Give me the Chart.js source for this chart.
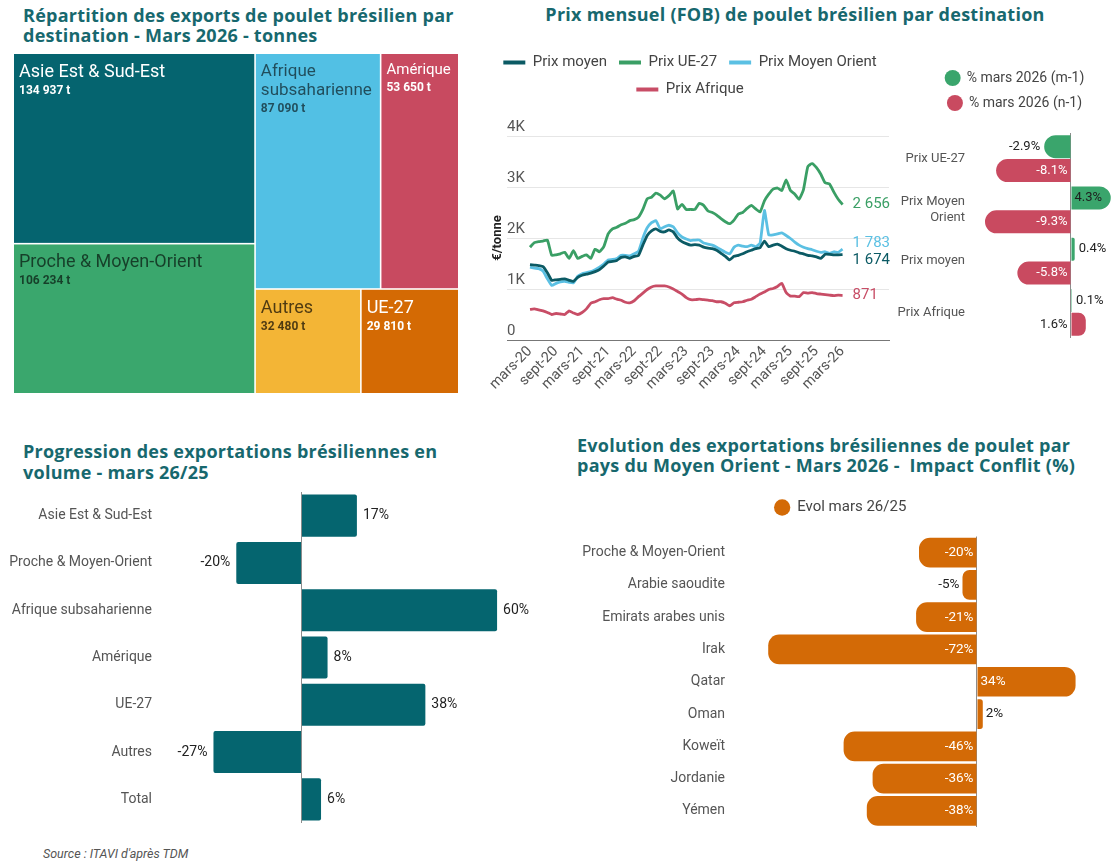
<!DOCTYPE html>
<html lang="fr">
<head>
<meta charset="utf-8">
<title>Exports de poulet brésilien - Mars 2026</title>
<script src="https://cdn.jsdelivr.net/npm/chart.js@4/dist/chart.umd.min.js"></script>
<style>
  body { margin: 0; background: #fff; width: 1120px; height: 868px; position: relative; overflow: hidden; font-family: Roboto, sans-serif; }
  .titre { position: absolute; font-family: 'Open Sans', sans-serif; font-weight: 700; color: #17686e; font-size: 18px; letter-spacing: 0.25px; line-height: 20px; white-space: nowrap; }
  canvas { position: absolute; }
  .source { position: absolute; left: 43px; top: 846px; font-size: 12.5px; font-style: italic; color: #555; }
</style>
</head>
<body>
<div class="titre" style="left:23px;top:5px">Répartition des exports de poulet brésilien par<br>destination - Mars 2026 - tonnes</div>
<div class="titre" style="left:540px;top:4px;width:510px;text-align:center">Prix mensuel (FOB) de poulet brésilien par destination</div>
<div class="titre" style="left:23px;top:441px;line-height:21px">Progression des exportations brésiliennes en<br>volume - mars 26/25</div>
<div class="titre" style="left:577px;top:435px">Evolution des exportations brésiliennes de poulet par<br>pays du Moyen Orient - Mars 2026 - &nbsp;Impact Conflit (%)</div>

<canvas id="treemap" width="444" height="339" style="left:14px;top:54px"></canvas>
<canvas id="prixChart" width="440" height="353" style="left:470px;top:43px"></canvas>
<canvas id="variationChart" width="250" height="278" style="left:890px;top:60px"></canvas>
<canvas id="volumeChart" width="545" height="331" style="left:0px;top:492px"></canvas>
<canvas id="moChart" width="554" height="337" style="left:566px;top:490px"></canvas>
<div class="source">Source : ITAVI d'après TDM</div>

<script>
// Répartition des exports par destination - mars 2026 (tonnes)
const treemapLabels = ['Asie Est & Sud-Est', 'Proche & Moyen-Orient', 'Afrique subsaharienne', 'Amérique', 'Autres', 'UE-27'];
const treemapValues = [134937, 106234, 87090, 53650, 32480, 29810];

// Prix mensuels FOB (€/tonne), de mars-20 à mars-26
const xTickLabels = ['mars-20', 'sept-20', 'mars-21', 'sept-21', 'mars-22', 'sept-22', 'mars-23',
    'sept-23', 'mars-24', 'sept-24', 'mars-25', 'sept-25', 'mars-26'];
const prixMoyen = [
    1480, 1470, 1460, 1440, 1320, 1170, 1180, 1190, 1200, 1170,
    1150, 1230, 1270, 1290, 1310, 1340, 1380, 1450, 1530, 1540,
    1560, 1620, 1630, 1600, 1640, 1660, 1860, 2050, 2140, 2180,
    2130, 2120, 2160, 2120, 2000, 1930, 1890, 1860, 1870, 1860,
    1820, 1800, 1790, 1760, 1700, 1640, 1570, 1640, 1660, 1690,
    1730, 1760, 1790, 1810, 1940, 1830, 1860, 1880, 1840, 1790,
    1760, 1740, 1710, 1690, 1660, 1650, 1630, 1600, 1680, 1680,
    1670, 1670, 1674];
const prixUE = [
    1820, 1910, 1930, 1940, 1960, 1660, 1670, 1690, 1720, 1600,
    1750, 1600, 1640, 1670, 1600, 1780, 1730, 1830, 2080, 2180,
    2210, 2260, 2290, 2340, 2360, 2410, 2560, 2770, 2800, 2880,
    2840, 2770, 2830, 2920, 2570, 2660, 2560, 2560, 2560, 2680,
    2640, 2530, 2500, 2450, 2380, 2320, 2280, 2350, 2470, 2500,
    2580, 2640, 2570, 2510, 2730, 2860, 2960, 2980, 2930, 3140,
    2930, 2860, 2760, 2950, 3400, 3460, 3380, 3250, 3080, 3060,
    2900, 2760, 2656];
const prixMoyenOrient = [
    1430, 1410, 1400, 1350, 1200, 1070, 1110, 1140, 1150, 1130,
    1120, 1250, 1300, 1320, 1340, 1380, 1430, 1490, 1570, 1580,
    1600, 1660, 1660, 1650, 1690, 1740, 2000, 2200, 2300, 2340,
    2180, 2220, 2250, 2220, 2100, 2020, 1980, 1950, 1960, 1960,
    1900, 1880, 1860, 1820, 1770, 1720, 1690, 1820, 1860, 1840,
    1830, 1860, 1830, 1900, 2540, 2060, 2060, 2080, 2100, 2050,
    1990, 1920, 1860, 1820, 1790, 1770, 1740, 1720, 1730, 1700,
    1730, 1720, 1783];
const prixAfrique = [
    600, 610, 590, 570, 540, 500, 520, 510, 500, 570,
    530, 500, 540, 610, 720, 750, 790, 810, 810, 830,
    800, 780, 740, 730, 770, 850, 920, 990, 1040, 1060,
    1060, 1060, 1040, 1000, 950, 900, 830, 790, 790, 800,
    790, 780, 770, 750, 750, 720, 670, 730, 740, 750,
    780, 800, 850, 900, 940, 990, 1010, 1050, 1110, 930,
    860, 860, 850, 930, 920, 930, 910, 900, 890, 880,
    870, 880, 871];

// Variation des prix mars 2026 (%)
const variationCategories = ['Prix UE-27', ['Prix Moyen', 'Orient'], 'Prix moyen', 'Prix Afrique'];
const variationM1 = [-2.9, 4.3, 0.4, 0.1];
const variationN1 = [-8.1, -9.3, -5.8, 1.6];

// Progression des volumes exportés mars 26/25 (%)
const volumeCategories = ['Asie Est & Sud-Est', 'Proche & Moyen-Orient', 'Afrique subsaharienne', 'Amérique', 'UE-27', 'Autres', 'Total'];
const volumeValues = [17, -20, 60, 8, 38, -27, 6];

// Evolution par pays du Moyen-Orient mars 26/25 (%)
const moCategories = ['Proche & Moyen-Orient', 'Arabie saoudite', 'Emirats arabes unis', 'Irak', 'Qatar', 'Oman', 'Koweït', 'Jordanie', 'Yémen'];
const moValues = [-20, -5, -21, -72, 34, 2, -46, -36, -38];

// Styles
const treemapColors = ['#05646f', '#3aa76d', '#52c0e4', '#c84a60', '#f3b536', '#d46a04'];
const treemapTextColors = ['#ffffff', 'rgba(0,0,0,0.62)', 'rgba(0,0,0,0.6)', '#ffffff', 'rgba(0,0,0,0.68)', '#ffffff'];

Chart.defaults.font.family = 'Roboto';
Chart.defaults.color = '#555';
Chart.defaults.animation = false;
Chart.defaults.events = [];
Chart.defaults.plugins.tooltip.enabled = false;

// Format "134 937"
const milliers = v => String(Math.round(v)).replace(/\B(?=(\d{3})+(?!\d))/g, ' ');

// Squarify (ratio d'or), en unités de la zone
function squarify(values, x0, y0, x1, y1) {
    const ratio = (1 + Math.sqrt(5)) / 2;
    const rects = [];
    let value = values.reduce((a, b) => a + b, 0);
    let i0 = 0, i1 = 0;
    while (i0 < values.length) {
        const dx = x1 - x0, dy = y1 - y0;
        let sum = values[i1++];
        let minV = sum, maxV = sum;
        const alpha = Math.max(dy / dx, dx / dy) / (value * ratio);
        let beta = sum * sum * alpha;
        let minRatio = Math.max(maxV / beta, beta / minV);
        for (; i1 < values.length; ++i1) {
            const v = values[i1];
            sum += v;
            minV = Math.min(minV, v);
            maxV = Math.max(maxV, v);
            beta = sum * sum * alpha;
            const r = Math.max(maxV / beta, beta / minV);
            if (r > minRatio) { sum -= v; break; }
            minRatio = r;
        }
        const row = values.slice(i0, i1);
        if (dx < dy) {
            const yEnd = y0 + dy * sum / value;
            let x = x0;
            row.forEach((v, k) => {
                const w = dx * v / sum;
                rects.push({ i: i0 + k, x0: x, y0: y0, x1: x + w, y1: yEnd });
                x += w;
            });
            y0 = yEnd;
        } else {
            const xEnd = x0 + dx * sum / value;
            let y = y0;
            row.forEach((v, k) => {
                const h = dy * v / sum;
                rects.push({ i: i0 + k, x0: x0, y0: y, x1: xEnd, y1: y + h });
                y += h;
            });
            x0 = xEnd;
        }
        value -= sum;
        i0 = i1;
    }
    return rects;
}

function decouper(ctx, texte, largeurMax) {
    const lignes = [];
    let ligne = '';
    texte.split(' ').forEach(m => {
        const essai = ligne ? ligne + ' ' + m : m;
        if (ligne && ctx.measureText(essai).width > largeurMax) { lignes.push(ligne); ligne = m; }
        else ligne = essai;
    });
    lignes.push(ligne);
    return lignes;
}

const treemapPlugin = {
    id: 'treemap',
    afterDatasetsDraw(chart) {
        const { ctx, chartArea: a, scales: { x, y } } = chart;
        const ar = a.width / a.height;
        const cells = squarify(treemapValues, 0, 0, ar, 1);
        ctx.save();
        cells.forEach(c => {
            let l = x.getPixelForValue(c.x0 / ar), r = x.getPixelForValue(c.x1 / ar);
            let t = y.getPixelForValue(c.y0), b = y.getPixelForValue(c.y1);
            if (c.x0 > 1e-6) l += 0.8;
            if (c.x1 < ar - 1e-6) r -= 0.8;
            if (c.y0 > 1e-6) t += 0.8;
            if (c.y1 < 1 - 1e-6) b -= 0.8;
            ctx.fillStyle = treemapColors[c.i];
            ctx.fillRect(l, t, r - l, b - t);

            const maxW = r - l - 10;
            let size = 18, lignes;
            do {
                ctx.font = size + 'px Roboto';
                lignes = decouper(ctx, treemapLabels[c.i], maxW);
                size--;
            } while (lignes.some(s => ctx.measureText(s).width > maxW) && size > 9);
            size++;
            ctx.fillStyle = treemapTextColors[c.i];
            ctx.textAlign = 'left';
            ctx.textBaseline = 'alphabetic';
            let base = t + 5 + size;
            lignes.forEach((s, k) => { ctx.fillText(s, l + 5, base); if (k < lignes.length - 1) base += size + 2; });
            ctx.font = 'bold 12px Roboto';
            ctx.fillText(milliers(treemapValues[c.i]) + ' t', l + 5, base + 17);
        });
        ctx.restore();
    }
};

// Hauteur de légende fixe pour placer la zone du graphique
const hauteurLegende = {
    id: 'hauteurLegende',
    beforeLayout(chart, args, opts) {
        const lg = chart.legend;
        if (lg && !lg._hauteurFixe) {
            const fit = lg.fit;
            lg.fit = function () { fit.call(this); this.height = opts.hauteur; };
            lg._hauteurFixe = true;
        }
    }
};

// Valeurs en fin de courbe, écartées si elles se chevauchent
const finValeurs = {
    id: 'finValeurs',
    afterDatasetsDraw(chart) {
        const ctx = chart.ctx;
        const items = chart.data.datasets.map((ds, k) => {
            const pts = chart.getDatasetMeta(k).data;
            const pt = pts[pts.length - 1];
            return { x: pt.x, y: pt.y, v: ds.data[ds.data.length - 1].y, color: ds.borderColor };
        }).sort((p, q) => p.y - q.y);
        for (let n = 0; n < 10; n++) {
            for (let k = 1; k < items.length; k++) {
                const d = items[k].y - items[k - 1].y;
                if (d < 17) { const m = (17 - d) / 2; items[k].y += m; items[k - 1].y -= m; }
            }
        }
        ctx.save();
        ctx.font = '15px Roboto';
        ctx.textAlign = 'left';
        ctx.textBaseline = 'middle';
        items.forEach(it => { ctx.fillStyle = it.color; ctx.fillText(milliers(it.v), it.x + 10, it.y); });
        ctx.restore();
    }
};

// Etiquettes de barres
function pluginEtiquettes(opts) {
    return {
        id: 'etiquettes',
        afterDatasetsDraw(chart) {
            const ctx = chart.ctx;
            ctx.save();
            ctx.font = opts.font;
            ctx.textBaseline = 'middle';
            chart.data.datasets.forEach((ds, k) => {
                chart.getDatasetMeta(k).data.forEach((bar, i) => {
                    const v = ds.data[i];
                    const txt = opts.format(v);
                    const w = ctx.measureText(txt).width;
                    const longueur = Math.abs(bar.x - bar.base);
                    let x, align, color;
                    if (opts.inside && longueur > w + 8) {
                        x = v < 0 ? bar.base - 3 : bar.base + 3;
                        align = v < 0 ? 'right' : 'left';
                        color = opts.inside[k];
                    } else if (v < 0 || (opts.outsideLeft && opts.outsideLeft[k])) {
                        x = Math.min(bar.x, bar.base) - opts.gap;
                        align = 'right';
                        color = opts.outside;
                    } else {
                        x = bar.x + opts.gap;
                        align = 'left';
                        color = opts.outside;
                    }
                    ctx.textAlign = align;
                    ctx.fillStyle = color;
                    ctx.fillText(txt, x, bar.y);
                });
            });
            ctx.restore();
        }
    };
}

// Axe des valeurs réduit à la ligne du zéro
function axeZero(min, max, margeDroite) {
    return {
        min: min, max: max,
        afterBuildTicks: s => { s.ticks = [{ value: 0 }]; },
        afterFit: s => { s.paddingLeft = 0; s.paddingRight = margeDroite || 0; },
        ticks: { display: false },
        grid: { drawTicks: false, color: '#8c8c8c', lineWidth: 1 },
        border: { display: false }
    };
}
function axeCategories(largeur, padding, taille) {
    return {
        afterFit: s => { s.width = largeur; s.paddingTop = 0; s.paddingBottom = 0; },
        ticks: { padding: padding, color: '#555', font: { size: taille } },
        grid: { display: false, drawTicks: false },
        border: { display: false }
    };
}

// 1. Treemap
new Chart(document.getElementById('treemap'), {
    type: 'scatter',
    data: { datasets: [] },
    options: {
        responsive: false,
        layout: { padding: 0 },
        plugins: { legend: { display: false } },
        scales: {
            x: { type: 'linear', min: 0, max: 1, display: false },
            y: { type: 'linear', min: 0, max: 1, reverse: true, display: false }
        }
    },
    plugins: [treemapPlugin]
});

// 2. Prix mensuels
const serie = arr => arr.map((v, i) => ({ x: i, y: v }));
new Chart(document.getElementById('prixChart'), {
    type: 'line',
    data: {
        datasets: [
            { label: 'Prix moyen', data: serie(prixMoyen), borderColor: '#0b5a64', backgroundColor: '#0b5a64' },
            { label: 'Prix UE-27', data: serie(prixUE), borderColor: '#3a9f65', backgroundColor: '#3a9f65' },
            { label: 'Prix Moyen Orient', data: serie(prixMoyenOrient), borderColor: '#5bc0e3', backgroundColor: '#5bc0e3' },
            { label: 'Prix Afrique', data: serie(prixAfrique), borderColor: '#c84d66', backgroundColor: '#c84d66' }
        ]
    },
    options: {
        responsive: false,
        layout: { padding: 0 },
        elements: { point: { radius: 0 }, line: { borderWidth: 2.8, tension: 0.15 } },
        plugins: {
            hauteurLegende: { hauteur: 93 },
            legend: {
                position: 'top',
                labels: {
                    boxWidth: 22, boxHeight: 4, padding: 12, color: '#444', font: { size: 15 },
                    generateLabels: chart => Chart.defaults.plugins.legend.labels.generateLabels(chart)
                        .map(l => Object.assign(l, { lineWidth: 0 }))
                }
            }
        },
        scales: {
            x: {
                type: 'linear', min: -5.3, max: 82.7,
                afterBuildTicks: s => { s.ticks = xTickLabels.map((_, k) => ({ value: k * 6 })); },
                afterFit: s => { s.paddingLeft = 0; s.paddingRight = 21; },
                ticks: {
                    autoSkip: false, minRotation: 45, maxRotation: 45, padding: 3,
                    color: '#555', font: { size: 14.5 },
                    callback: v => xTickLabels[Math.round(v / 6)]
                },
                grid: { drawOnChartArea: false, drawTicks: false },
                border: { display: true, color: '#777' }
            },
            y: {
                min: 0, max: 4000,
                afterFit: s => { s.paddingTop = 0; s.paddingBottom = 0; },
                ticks: {
                    stepSize: 1000, mirror: true, padding: 0, labelOffset: -9,
                    color: '#555', font: { size: 15 },
                    callback: v => v === 0 ? '0' : (v / 1000) + 'K'
                },
                grid: { color: '#e6e6e6', drawTicks: false },
                border: { display: false },
                title: { display: true, text: '€/tonne', color: '#222', font: { size: 13, weight: 'bold' }, padding: { top: 20.2, bottom: 1.2 } }
            }
        }
    },
    plugins: [hauteurLegende, finValeurs]
});

// 3. Variations des prix
new Chart(document.getElementById('variationChart'), {
    type: 'bar',
    data: {
        labels: variationCategories,
        datasets: [
            { label: '% mars 2026 (m-1)', data: variationM1, backgroundColor: '#3aa56c' },
            { label: '% mars 2026 (n-1)', data: variationN1, backgroundColor: '#c94a60' }
        ]
    },
    options: {
        responsive: false,
        indexAxis: 'y',
        layout: { padding: 0 },
        datasets: { bar: { borderRadius: 12, borderSkipped: 'start', barPercentage: 0.96, categoryPercentage: 0.93 } },
        plugins: {
            hauteurLegende: { hauteur: 73 },
            legend: {
                position: 'top',
                labels: { usePointStyle: true, pointStyle: 'circle', boxWidth: 14, boxHeight: 11.3, padding: 11, color: '#444', font: { size: 14 } }
            }
        },
        scales: {
            x: axeZero(-9.84, 5.3, 20),
            y: axeCategories(90, 15, 13)
        }
    },
    plugins: [hauteurLegende, pluginEtiquettes({
        font: '13px Roboto', gap: 4, format: v => v.toFixed(1) + '%',
        inside: ['#1e1e1e', '#ffffff'], outside: '#222', outsideLeft: [false, true]
    })]
});

// 4. Progression des volumes
new Chart(document.getElementById('volumeChart'), {
    type: 'bar',
    data: {
        labels: volumeCategories,
        datasets: [{ data: volumeValues, backgroundColor: '#05656f', borderRadius: 2, borderSkipped: 'start', barPercentage: 0.89, categoryPercentage: 1 }]
    },
    options: {
        responsive: false,
        indexAxis: 'y',
        layout: { padding: 0 },
        plugins: { legend: { display: false } },
        scales: {
            x: axeZero(-43.4, 74.7),
            y: axeCategories(160, 8, 14)
        }
    },
    plugins: [pluginEtiquettes({ font: '14px Roboto', gap: 6, format: v => v + '%', outside: '#222' })]
});

// 5. Pays du Moyen-Orient
new Chart(document.getElementById('moChart'), {
    type: 'bar',
    data: {
        labels: moCategories,
        datasets: [{ label: 'Evol mars 26/25', data: moValues, backgroundColor: '#d36a06', borderRadius: 11, borderSkipped: 'start', barPercentage: 0.92, categoryPercentage: 1 }]
    },
    options: {
        responsive: false,
        indexAxis: 'y',
        layout: { padding: { right: 5 } },
        plugins: {
            hauteurLegende: { hauteur: 46.5 },
            legend: {
                position: 'top',
                labels: { usePointStyle: true, pointStyle: 'circle', boxWidth: 15, boxHeight: 11.5, padding: 10, color: '#444', font: { size: 15 } }
            }
        },
        scales: {
            x: axeZero(-83.8, 47.6),
            y: axeCategories(168, 9, 14)
        }
    },
    plugins: [hauteurLegende, pluginEtiquettes({
        font: '13.5px Roboto', gap: 3, format: v => v + '%', inside: ['#ffffff'], outside: '#222'
    })]
});
</script>
</body>
</html>
